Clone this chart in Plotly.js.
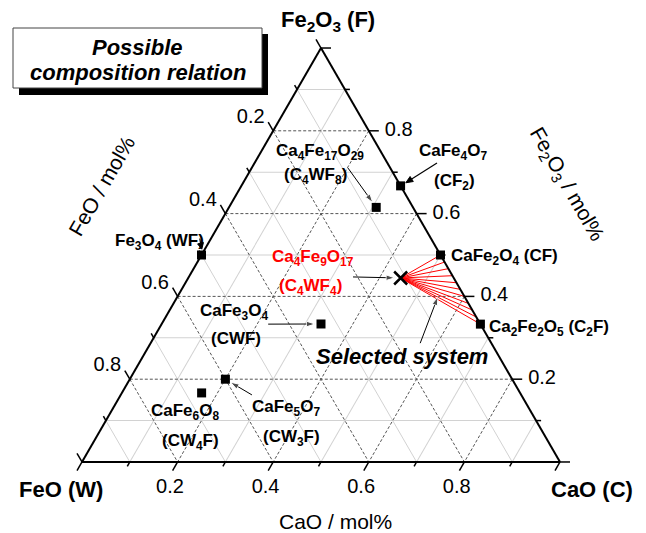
<!DOCTYPE html>
<html>
<head>
<meta charset="utf-8">
<script src="https://cdn.plot.ly/plotly-3.0.1.min.js"></script>
<style>
  html, body { margin: 0; padding: 0; background: #fff; }
  #chart { width: 646px; height: 533px; }
</style>
</head>
<body>
<div id="chart"></div>
<script>
// CaO–FeO–Fe2O3 compounds, mole fractions (ternary: a = Fe2O3, b = FeO, c = CaO)
const compounds = ['CaFe2O4', 'Ca2Fe2O5', 'CaFe4O7', 'Ca4Fe17O29', 'Fe3O4', 'CaFe3O4', 'CaFe5O7', 'CaFe6O8'];
const cao   = [0.500, 0.667, 0.333, 0.308, 0.000, 0.333, 0.200, 0.167];
const feo   = [0.000, 0.000, 0.000, 0.077, 0.500, 0.333, 0.600, 0.667];
const fe2o3 = [0.500, 0.333, 0.667, 0.615, 0.500, 0.333, 0.200, 0.167];

// Selected composition Ca4Fe9O17 (C4WF4)
const selCaO   = [0.444];
const selFeO   = [0.111];
const selFe2O3 = [0.444];

// Tie-line end members along the CF – C2F join
const tieCaO   = [0.500, 0.517, 0.533, 0.550, 0.567, 0.583, 0.600, 0.617, 0.633, 0.650, 0.667];
const tieFe2O3 = [0.500, 0.483, 0.467, 0.450, 0.433, 0.417, 0.400, 0.383, 0.367, 0.350, 0.333];

// Axis ticks and grid
const majorTicks = [0, 0.2, 0.4, 0.6, 0.8, 1.0];
const minorTicks = [0.1, 0.3, 0.5, 0.7, 0.9];
const majorVals  = [0.2, 0.4, 0.6, 0.8];
const tickText   = ['0.2', '0.4', '0.6', '0.8'];

const FONT = 'Liberation Sans, Arial, sans-serif';
const W = 646, H = 533;

// collect [a, b, c] segments into one gapped line
function segments(list) {
  const a = [], b = [], c = [];
  list.forEach(seg => {
    seg.forEach(p => { a.push(p[0]); b.push(p[1]); c.push(p[2]); });
    a.push(null); b.push(null); c.push(null);
  });
  return { a, b, c };
}

const traces = [];

// dashed lines at the labelled values
const dashed = [];
majorVals.forEach(v => {
  dashed.push([[v, 1 - v, 0], [v, 0, 1 - v]]);   // constant Fe2O3
  dashed.push([[1 - v, v, 0], [0, v, 1 - v]]);   // constant FeO
  dashed.push([[1 - v, 0, v], [0, 1 - v, v]]);   // constant CaO
});
traces.push(Object.assign({
  type: 'scatterternary', mode: 'lines', hoverinfo: 'skip',
  line: { color: 'rgb(85,85,85)', width: 1, dash: '3px,2px' }
}, segments(dashed)));

// tick marks: line markers pushed outward from each edge, continuing that
// axis' grid lines (FeO on the left, CaO below, Fe2O3 on the right)
function tickMarks(a, b, c, angle, len) {
  return {
    type: 'scatterternary', mode: 'markers', a, b, c, cliponaxis: false, hoverinfo: 'skip',
    marker: {
      symbol: 'line-ns', size: len / 1.4, angle: angle, standoff: len / 2,
      color: '#000', line: { color: '#000', width: 1.5 }
    }
  };
}
[[majorTicks, 10], [minorTicks, 5]].forEach(([vals, len]) => {
  traces.push(tickMarks(vals.map(v => 1 - v), vals, vals.map(() => 0), 150, len));
  traces.push(tickMarks(vals.map(() => 0), vals.map(v => 1 - v), vals, 30, len));
  traces.push(tickMarks(vals, vals.map(() => 0), vals.map(v => 1 - v), 270, len));
});

// tick labels
function tickLabels(a, b, c, pos) {
  return {
    type: 'scatterternary', mode: 'markers+text', a, b, c, text: tickText,
    textposition: pos, cliponaxis: false, hoverinfo: 'skip',
    marker: { size: 24, color: 'rgba(0,0,0,0)' },
    textfont: { family: FONT, size: 20, color: '#000' }
  };
}
traces.push(tickLabels(majorVals.map(v => 1 - v + 0.031), majorVals.map(v => v - 0.031), majorVals.map(() => 0), 'middle left'));
traces.push(tickLabels(majorVals.map(() => 0), majorVals.map(v => 1 - v + 0.016), majorVals.map(v => v - 0.016), 'bottom center'));
traces.push(tickLabels(majorVals, majorVals.map(() => 0), majorVals.map(v => 1 - v), 'middle right'));

// tie lines from the selected composition
const ties = tieCaO.map((c, i) => [[selFe2O3[0], selFeO[0], selCaO[0]], [tieFe2O3[i], 0, c]]);
traces.push(Object.assign({
  type: 'scatterternary', mode: 'lines', hoverinfo: 'skip',
  line: { color: '#ff0000', width: 1 }
}, segments(ties)));

// compounds
traces.push({
  type: 'scatterternary', mode: 'markers', a: fe2o3, b: feo, c: cao, text: compounds,
  cliponaxis: false, hoverinfo: 'text',
  marker: { symbol: 'square', size: 9, color: '#000' }
});

// selected composition
traces.push({
  type: 'scatterternary', mode: 'markers', a: selFe2O3, b: selFeO, c: selCaO,
  cliponaxis: false, hoverinfo: 'skip',
  marker: { symbol: 'x-thin', size: 13, color: '#000', line: { color: '#000', width: 2.5 } }
});

// leader arrows inside the triangle: start [Fe2O3, FeO, CaO] -> target point
const arrows = [
  { from: [0.710, 0.0885, 0.2015], to: [fe2o3[3], feo[3], cao[3]], gap: 6 },
  { from: [0.333, 0.444, 0.223],   to: [fe2o3[5], feo[5], cao[5]], gap: 6 },
  { from: [0.162, 0.5635, 0.2745], to: [fe2o3[6], feo[6], cao[6]], gap: 6 },
  { from: [0.447, 0.2095, 0.3435], to: [selFe2O3[0], selFeO[0], selCaO[0]], gap: 6 },
  { from: [0.287, 0.149, 0.564],   to: [0.399, 0.056, 0.545], gap: 0 }
];
arrows.forEach(ar => {
  traces.push({
    type: 'scatterternary', mode: 'lines+markers', cliponaxis: false, hoverinfo: 'skip',
    a: [ar.from[0], ar.to[0]], b: [ar.from[1], ar.to[1]], c: [ar.from[2], ar.to[2]],
    line: { color: '#000', width: 1, backoff: 'auto' },
    marker: { symbol: 'arrow', size: [0, 9], angleref: 'previous', standoff: ar.gap, color: '#000' }
  });
});

function axisStyle() {
  return {
    title: { text: '' }, min: 0,
    tickmode: 'array', tickvals: minorTicks, ticks: '', showticklabels: false,
    showgrid: true, gridcolor: '#d2d2d2', gridwidth: 1,
    showline: true, linecolor: '#000', linewidth: 2
  };
}

function note(text, x, y, size, opts) {
  return Object.assign({
    text, x: x / W, y: 1 - y / H, xref: 'paper', yref: 'paper', showarrow: false,
    xanchor: 'center', yanchor: 'middle',
    font: { family: FONT, size: size, color: '#000', weight: 'bold' }
  }, opts || {});
}
const plain = s => ({ family: FONT, size: s, color: '#000' });
const red = s => ({ family: FONT, size: s, color: '#ff0000', weight: 'bold' });
const boldItalic = s => ({ family: FONT, size: s, color: '#000', weight: 'bold', style: 'italic' });

const annotations = [
  // corners
  note('Fe<sub>2</sub>O<sub>3</sub> (F)', 328, 21, 22),
  note('FeO (W)', 61, 489, 22),
  note('CaO (C)', 592, 489, 22),
  // axis titles
  note('CaO / mol%', 335, 521, 21, { font: plain(21) }),
  note('FeO / mol%', 101, 186, 21, { font: plain(21), textangle: -60 }),
  note('Fe<sub>2</sub>O<sub>3</sub> / mol%', 566, 184, 21, { font: plain(21), textangle: 60 }),
  // compound labels
  note('Ca<sub>4</sub>Fe<sub>17</sub>O<sub>29</sub>', 320, 152, 17),
  note('(C<sub>4</sub>WF<sub>8</sub>)', 315, 176, 17),
  note('CaFe<sub>4</sub>O<sub>7</sub>', 453, 152, 17),
  note('(CF<sub>2</sub>)', 454, 182, 17),
  note('Fe<sub>3</sub>O<sub>4</sub> (WF)', 159, 242, 17),
  note('CaFe<sub>2</sub>O<sub>4</sub> (CF)', 449, 257, 17, { xanchor: 'left' }),
  note('Ca<sub>2</sub>Fe<sub>2</sub>O<sub>5</sub> (C<sub>2</sub>F)', 487, 328, 17, { xanchor: 'left' }),
  note('Ca<sub>4</sub>Fe<sub>9</sub>O<sub>17</sub>', 313, 258, 17, { font: red(17) }),
  note('(C<sub>4</sub>WF<sub>4</sub>)', 310, 287, 17, { font: red(17) }),
  note('CaFe<sub>3</sub>O<sub>4</sub>', 234, 312, 17),
  note('(CWF)', 236, 338, 17),
  note('CaFe<sub>5</sub>O<sub>7</sub>', 286, 408, 17),
  note('(CW<sub>3</sub>F)', 291, 438, 17),
  note('CaFe<sub>6</sub>O<sub>8</sub>', 185, 412, 17),
  note('(CW<sub>4</sub>F)', 190, 442, 17),
  note('Selected system', 402, 356, 22, { font: boldItalic(22) }),
  // boxed caption
  note('Possible', 137, 47, 22, { font: boldItalic(22) }),
  note('composition relation', 138, 73, 22, { font: boldItalic(22) })
];

// page position (px) -> paper fraction
const fx = x => x / W;
const fy = y => 1 - y / H;

// leader arrows that come in from outside the triangle edge (page px):
// a shaft from tail to base and a filled head from base to tip
function leader(tail, base, tip, wingA, wingB) {
  return [
    { type: 'line', xref: 'paper', yref: 'paper', layer: 'above',
      x0: fx(tail[0]), y0: fy(tail[1]), x1: fx(base[0]), y1: fy(base[1]),
      line: { color: '#000', width: 1.2 } },
    { type: 'path', xref: 'paper', yref: 'paper', layer: 'above',
      path: 'M ' + fx(wingA[0]) + ' ' + fy(wingA[1]) +
            ' L ' + fx(tip[0]) + ' ' + fy(tip[1]) +
            ' L ' + fx(wingB[0]) + ' ' + fy(wingB[1]) + ' Z',
      fillcolor: '#000', line: { color: '#000', width: 1 } }
  ];
}

const shapes = [
  // caption box with drop shadow
  { type: 'rect', xref: 'paper', yref: 'paper', layer: 'above',
    x0: 19 / W, x1: 268 / W, y0: 1 - 95 / H, y1: 1 - 34 / H,
    fillcolor: '#000', line: { width: 0 } },
  { type: 'rect', xref: 'paper', yref: 'paper', layer: 'above',
    x0: 13 / W, x1: 262 / W, y0: 1 - 88 / H, y1: 1 - 28 / H,
    fillcolor: '#fff', line: { color: '#444', width: 1 } }
].concat(
  leader([437, 163], [411.7, 179.0], [405.8, 182.8], [413.3, 181.5], [410.1, 176.5]),   // to CaFe4O7
  leader([199.8, 238.5], [200.5, 243.2], [201.8, 249.2], [203.4, 242.5], [197.6, 243.9]) // to Fe3O4
);

const layout = {
  width: W, height: H,
  margin: { l: 0, r: 0, t: 0, b: 0 },
  paper_bgcolor: '#fff',
  showlegend: false,
  hovermode: false,
  ternary: {
    sum: 1,
    domain: { x: [82 / W, 560 / W], y: [71 / H, 485 / H] },
    bgcolor: '#fff',
    aaxis: axisStyle(), baxis: axisStyle(), caxis: axisStyle()
  },
  shapes, annotations
};

Plotly.newPlot('chart', traces, layout, { displayModeBar: false, staticPlot: true });
</script>
</body>
</html>
